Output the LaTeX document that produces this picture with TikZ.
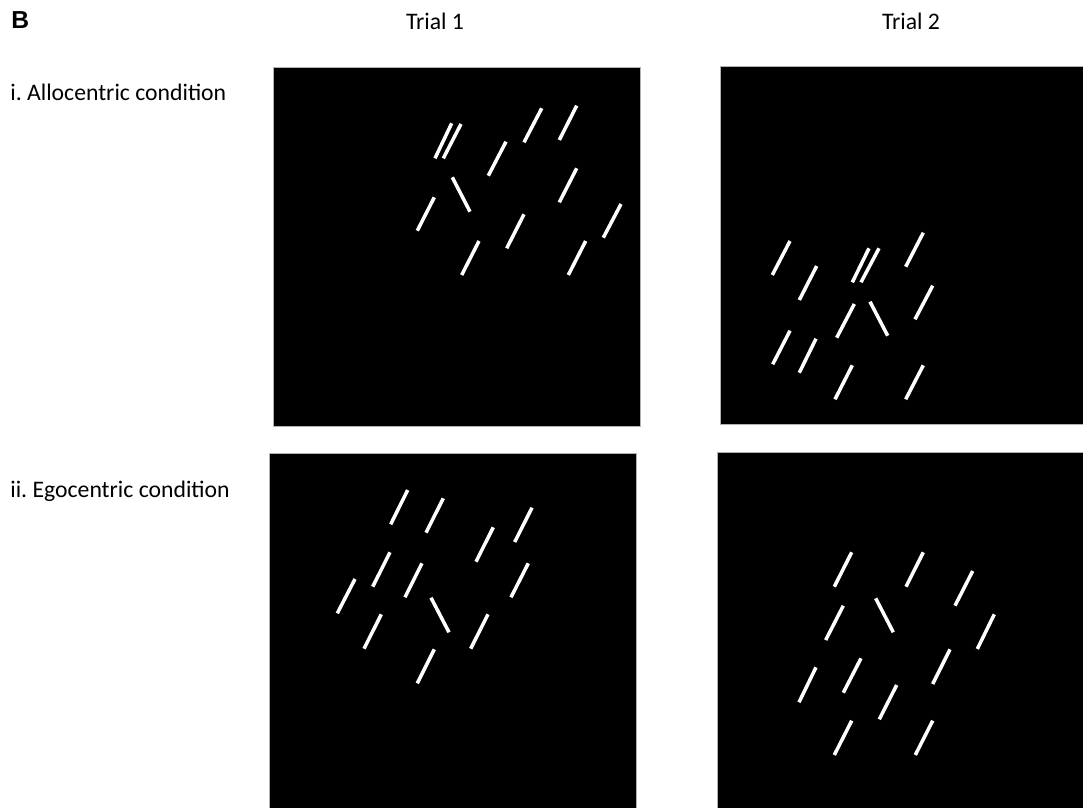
\documentclass[tikz,border=0pt]{standalone}
\usepackage{fontspec}
\setmainfont{Carlito}
\newfontfamily\panelfont{Liberation Sans}
\usetikzlibrary{positioning}
\frenchspacing

\begin{document}
\begin{tikzpicture}[
    x=0.02cm, y=-0.02cm,
    panel/.style={fill=black, draw=gray!60, line width=0.4pt},
    bar/.style={white, line width=2pt},
    heading/.style={inner sep=0pt, font=\fontsize{13.5}{16}\selectfont},
    condition/.style={inner sep=0pt, anchor=base west, font=\fontsize{13.5}{16}\selectfont}
]
    \useasboundingbox (0,0) rectangle (1083,808);

    % labels
    \node[inner sep=0pt, anchor=base west, font=\panelfont\bfseries\fontsize{14}{16}\selectfont] (panelB) at (11,28.5) {B};
    \node[heading, anchor=base] (trialA) at (435,29.5) {Trial 1};
    \node[heading, anchor=base] (trialB) at (911,29.5) {Trial 2};
    \node[condition] (allo) at (10,100) {i. Allocentric condition};
    \node[condition] (ego) at (10,497) {ii. Egocentric condition};

    % panels
    \draw[panel] (273.3,67.3) rectangle (640,426);
    \draw[panel] (720.7,66.5) rectangle (1090,424.3);
    \draw[panel] (269.3,453.3) rectangle (636,815);
    \draw[panel] (717.7,452.3) rectangle (1090,815);

    % allocentric, trial 1
    \foreach \xa/\ya/\xb/\yb in {451.7/123.3/435/158.3, 461/124/443.3/158.3,
        541.7/108.3/524/142.3, 576.7/105.7/559.3/140, 506/141.7/488.3/175.7,
        452.3/177.3/470/211.7, 434.3/197.3/417.3/230.7, 576.7/168.3/559.3/202.3,
        621/204/603.3/237.7, 524/214.3/506.7/248.3, 479/241/461.7/275,
        585.7/241/568.3/275}
        \draw[bar] (\xa,\ya) -- (\xb,\yb);

    % allocentric, trial 2
    \foreach \xa/\ya/\xb/\yb in {790/241/772.3/275, 816.7/266/799.3/300,
        869/248.3/852.3/282.3, 879/248.3/861/282.3, 923.3/232.7/905.7/266.7,
        854.3/304/836.7/337.7, 870/301.7/887.7/335.7, 932.7/285.7/915/319.3,
        790/330.7/772.7/364.3, 816/338.7/799.3/372.7, 852.3/365.3/835/399.3,
        923.3/365.3/905.7/399.3}
        \draw[bar] (\xa,\ya) -- (\xb,\yb);

    % egocentric, trial 1
    \foreach \xa/\ya/\xb/\yb in {407.7/490/390.7/524.3, 443.3/498.3/426/532.7,
        493.3/527.3/476/561.7, 532/507.7/514.7/542, 390/552.3/372.7/586.7,
        422/563.3/405/597.3, 355/579/337.3/613.3, 431/597.7/449/632.3,
        528.3/563.3/511/597.3, 381.3/614.3/364/648.7, 488/614.3/470.7/648.7,
        434.3/649.3/417.3/683.3}
        \draw[bar] (\xa,\ya) -- (\xb,\yb);

    % egocentric, trial 2
    \foreach \xa/\ya/\xb/\yb in {851.7/552.3/834.3/586.7, 923.3/552.3/906/586.7,
        972.7/571/955/605.7, 843.3/605.7/825.7/640, 875.7/598.3/893.3/632.3,
        994.3/614.3/977.3/649, 950/649.3/932.7/684, 816/667.3/799/702.3,
        861/658.3/843.3/692.7, 896.7/685/879.3/719.3, 851.7/720.7/834.3/755,
        932.7/720.7/915.3/755}
        \draw[bar] (\xa,\ya) -- (\xb,\yb);
\end{tikzpicture}
\end{document}
